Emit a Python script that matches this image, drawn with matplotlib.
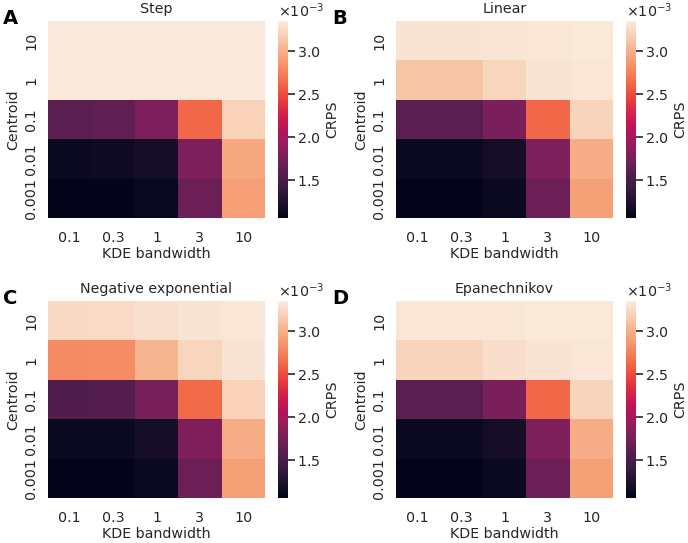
import matplotlib

matplotlib.use("Agg")
import matplotlib.pyplot as plt
import numpy as np
import pandas as pd
import seaborn as sns
from matplotlib.ticker import ScalarFormatter

bandwidths = ["0.1", "0.3", "1", "3", "10"]
centroids = ["10", "1", "0.1", "0.01", "0.001"]

# CRPS values in units of 1e-3, rows follow centroids (top to bottom)
step = [
    [3.34, 3.34, 3.34, 3.34, 3.34],
    [3.34, 3.34, 3.34, 3.34, 3.34],
    [1.60, 1.63, 1.79, 2.62, 3.20],
    [1.13, 1.14, 1.19, 1.79, 2.96],
    [1.07, 1.07, 1.11, 1.69, 2.90],
]
linear = [
    [3.30, 3.30, 3.31, 3.32, 3.33],
    [3.12, 3.12, 3.22, 3.30, 3.32],
    [1.60, 1.60, 1.77, 2.62, 3.21],
    [1.13, 1.13, 1.19, 1.79, 2.98],
    [1.07, 1.07, 1.12, 1.69, 2.91],
]
neg_exp = [
    [3.24, 3.25, 3.28, 3.30, 3.32],
    [2.80, 2.81, 3.02, 3.22, 3.30],
    [1.54, 1.56, 1.75, 2.64, 3.20],
    [1.13, 1.13, 1.19, 1.80, 2.98],
    [1.07, 1.07, 1.12, 1.69, 2.91],
]
epanechnikov = [
    [3.32, 3.32, 3.32, 3.33, 3.33],
    [3.21, 3.21, 3.27, 3.30, 3.32],
    [1.60, 1.60, 1.77, 2.62, 3.21],
    [1.13, 1.13, 1.19, 1.79, 2.98],
    [1.07, 1.07, 1.12, 1.69, 2.91],
]

panels = [
    ("A", "Step", step),
    ("B", "Linear", linear),
    ("C", "Negative exponential", neg_exp),
    ("D", "Epanechnikov", epanechnikov),
]

vmin, vmax = 1.06e-3, 3.35e-3

sns.set_theme(style="white")
plt.rcParams["font.family"] = ["DejaVu Sans"]
fs = 10.3
plt.rcParams["font.size"] = fs
text_color = "#262626"

fig = plt.figure(figsize=(6.88, 5.43), dpi=100)
W, H = 688.0, 543.0

# pixel boxes: (heatmap left, top) for each panel
origins = [(48, 21), (396, 21), (48, 301), (396, 301)]
hm_w, hm_h = 217, 197
cb_gap, cb_w = 13, 10
label_pos = [(3, 9), (332, 9), (3, 289), (332, 289)]

for (letter, title, values), (x0, y0), (lx, ly) in zip(panels, origins, label_pos):
    ax = fig.add_axes([x0 / W, 1 - (y0 + hm_h) / H, hm_w / W, hm_h / H])
    cax = fig.add_axes([(x0 + hm_w + cb_gap) / W, 1 - (y0 + hm_h) / H, cb_w / W, hm_h / H])
    df = pd.DataFrame(np.array(values) * 1e-3, index=centroids, columns=bandwidths)
    sns.heatmap(df, ax=ax, cbar_ax=cax, cmap="rocket", vmin=vmin, vmax=vmax,
                cbar_kws={"ticks": [1.5e-3, 2.0e-3, 2.5e-3, 3.0e-3]})
    ax.set_title(title, fontsize=fs, color=text_color, pad=6)
    ax.set_xlabel("KDE bandwidth", fontsize=fs, color=text_color, labelpad=2)
    ax.set_ylabel("Centroid", fontsize=fs, color=text_color, labelpad=3)
    ax.tick_params(axis="x", length=0, labelsize=fs, colors=text_color, pad=9)
    ax.tick_params(axis="y", length=0, labelsize=fs, colors=text_color, pad=7)
    plt.setp(ax.get_yticklabels(), rotation=90, va="center")
    plt.setp(ax.get_xticklabels(), rotation=0)

    fmt = ScalarFormatter(useMathText=True)
    fmt.set_powerlimits((0, 0))
    cax.yaxis.set_major_formatter(fmt)
    cax.tick_params(length=5, width=1.2, labelsize=fs, colors=text_color, pad=1.5)
    cax.set_ylabel("CRPS", fontsize=fs, color=text_color, labelpad=3)
    off = cax.yaxis.get_offset_text()
    off.set_fontsize(fs)
    off.set_color(text_color)
    off.set_horizontalalignment("left")
    off.set_x(0)
    fig.text(lx / W, 1 - ly / H, letter, fontsize=14, fontweight="bold",
             color="black", va="top", ha="left")

fig.savefig("out.png", dpi=100)
